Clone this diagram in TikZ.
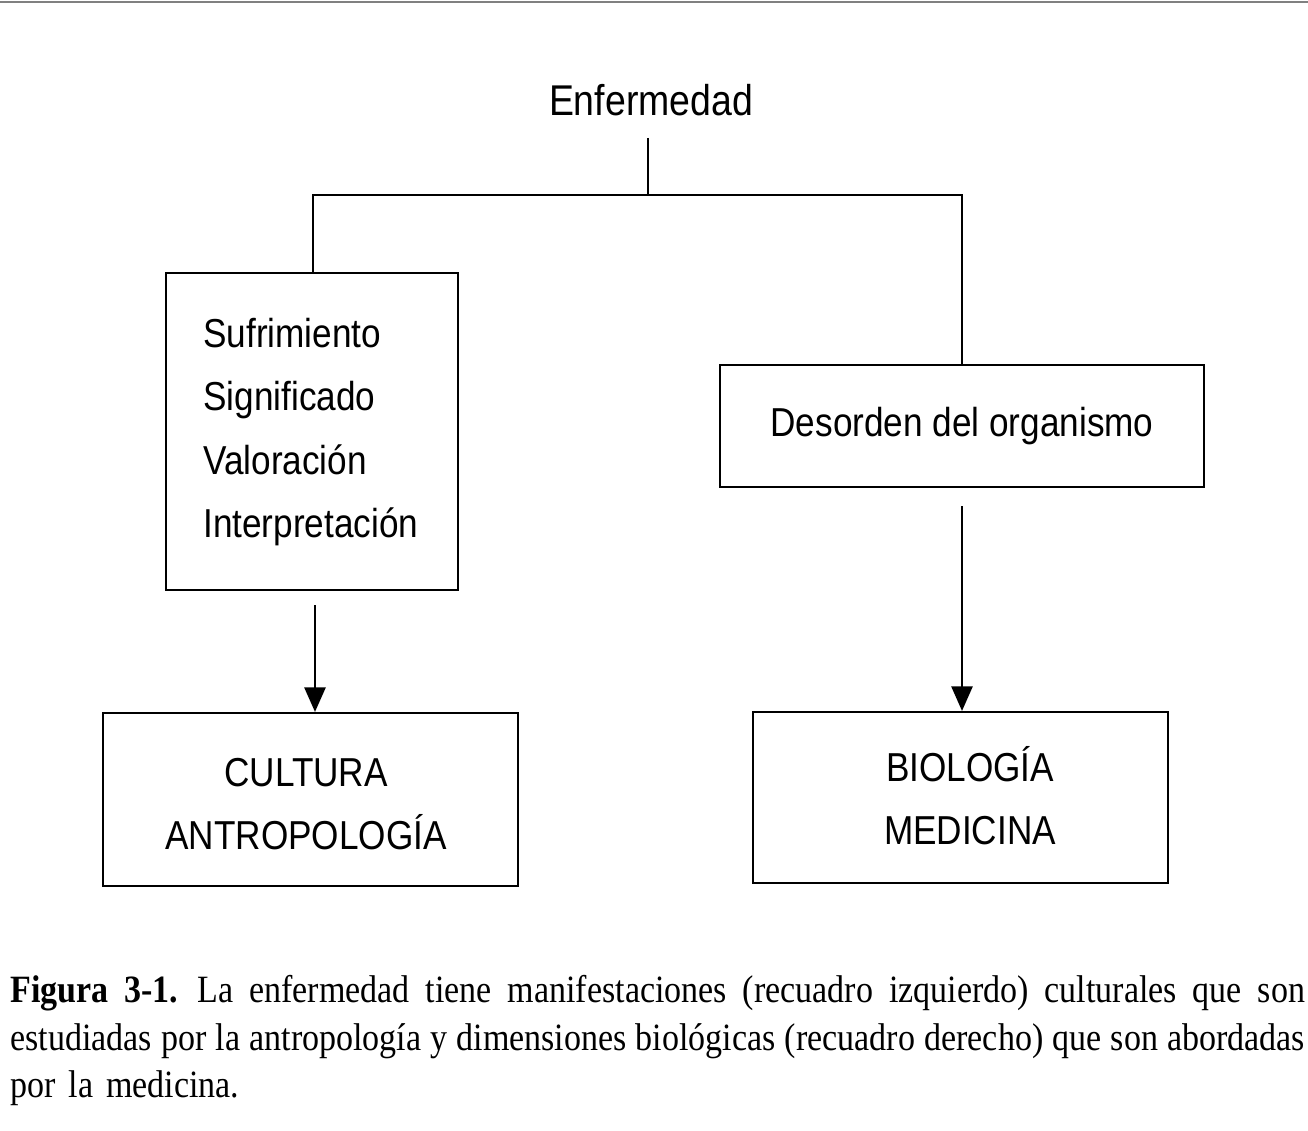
\documentclass[tikz,border=0pt]{standalone}
\usepackage{fontspec}
\setmainfont[FakeStretch=0.87]{Liberation Sans}
\newfontfamily\capfont[FakeStretch=0.88]{Liberation Serif}
\usetikzlibrary{arrows.meta}
\newcommand\capline[1]{\hbox to 25.9cm{\spaceskip=0.18em plus 1fil\relax #1}}
\begin{document}
\begin{tikzpicture}[x=0.02cm,y=-0.02cm]
    \tikzset{diabox/.style={shape=rectangle,draw,line width=1.2pt,inner sep=0pt},
             lbl/.style={font=\fontsize{23}{28}\selectfont,inner sep=0pt},
             conn/.style={line width=1.4pt},
             arr/.style={line width=1.4pt,-{Triangle[length=14pt,width=12pt]}}}
    \useasboundingbox (0,0) rectangle (1308,1131);
    \draw[gray,line width=0.8pt] (0,2) -- (1308,2);
    \node[lbl,font=\fontsize{24.5}{28}\selectfont] (enf) at (651,100) {Enfermedad};
    \node[diabox,minimum width=292*0.02cm,minimum height=317*0.02cm] (left) at (312,431.5) {};
    \node[diabox,minimum width=484*0.02cm,minimum height=122*0.02cm] (right) at (962,426) {};
    \node[lbl,anchor=center] (dor) at (right.center) {Desorden del organismo};
    \node[lbl,anchor=base west] (s1) at (203,348) {Sufrimiento};
    \node[lbl,anchor=base west] (s2) at (203,411) {Significado};
    \node[lbl,anchor=base west] (s3) at (203,475) {Valoración};
    \node[lbl,anchor=base west] (s4) at (203,538) {Interpretación};
    \node[diabox,minimum width=415*0.02cm,minimum height=173*0.02cm] (cult) at (310.5,799.5) {};
    \node[lbl,anchor=base] (c1) at (306,786) {CULTURA};
    \node[lbl,anchor=base] (c2) at (306,849) {ANTROPOLOGÍA};
    \node[diabox,minimum width=415*0.02cm,minimum height=171*0.02cm] (bio) at (960.5,797.5) {};
    \node[lbl,anchor=base] (b1) at (970,781) {BIOLOGÍA};
    \node[lbl,anchor=base] (b2) at (970,844) {MEDICINA};
    \coordinate (fork) at (648,195);
    \draw[conn] (648,138) -- (fork);
    \draw[conn] (left.north -| 313,0) |- (fork) -| (right.north);
    \draw[arr] (315,605) -- (cult.north -| 315,0);
    \draw[arr] (right.south) ++(0,18) -- (bio.north -| 962,0);
    \node[anchor=north west,text width=25.9cm,inner sep=0pt,
          font=\capfont\fontsize{22}{23}\selectfont] (cap) at (10,975)
      {\capline{\textbf{Figura 3-1.} La enfermedad tiene manifestaciones (recuadro izquierdo) culturales que son}\vskip 4pt
       \capline{estudiadas por la antropología y dimensiones biológicas (recuadro derecho) que son abordadas}\vskip 4pt
       \hbox{por la medicina.}};
\end{tikzpicture}
\end{document}
